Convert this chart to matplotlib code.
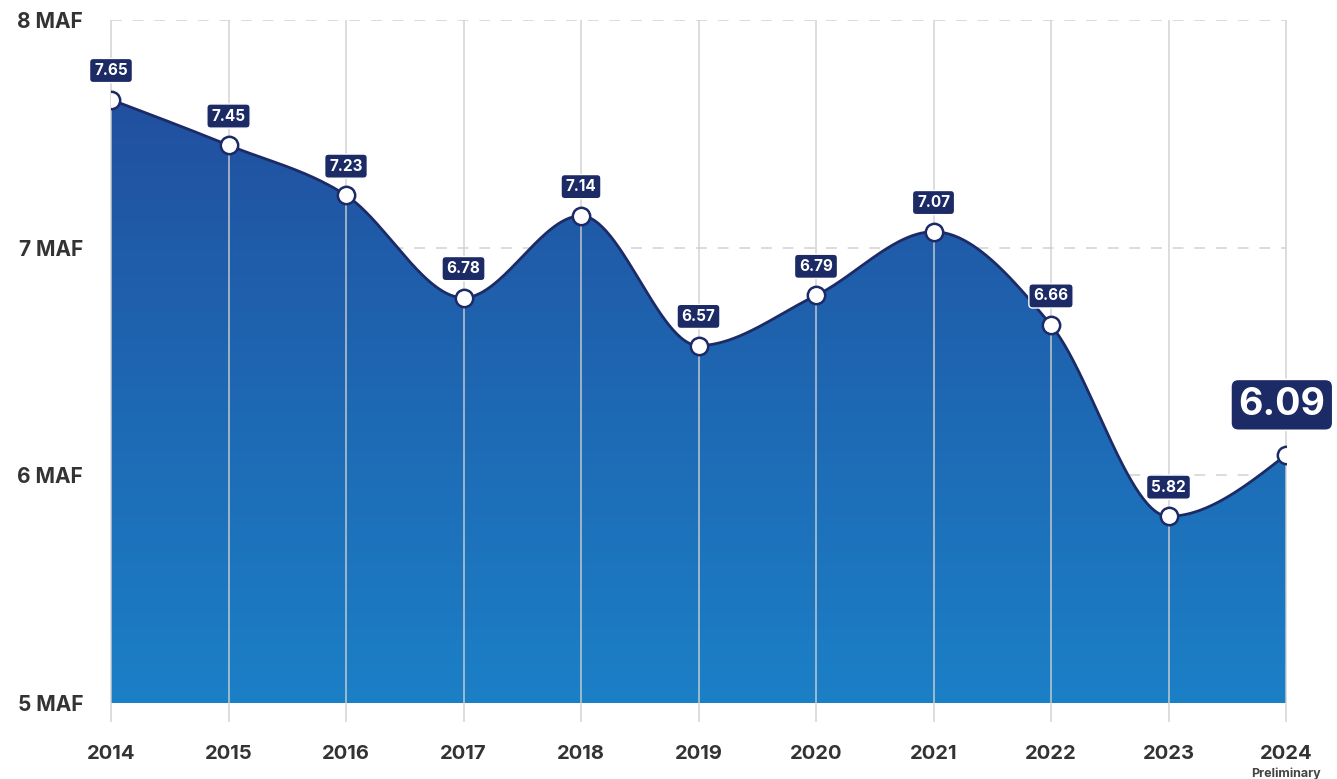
import numpy as np
import matplotlib
matplotlib.use("Agg")
import matplotlib.pyplot as plt
from matplotlib.colors import LinearSegmentedColormap

years = [2014, 2015, 2016, 2017, 2018, 2019, 2020, 2021, 2022, 2023, 2024]
values = [7.65, 7.45, 7.23, 6.78, 7.14, 6.57, 6.79, 7.07, 6.66, 5.82, 6.09]
labels = ["7.65", "7.45", "7.23", "6.78", "7.14", "6.57", "6.79", "7.07", "6.66", "5.82", "6.09"]
yticks = [5, 6, 7, 8]
ytick_labels = ["5 MAF", "6 MAF", "7 MAF", "8 MAF"]

NAVY = "#1c2a66"
FONT = ["Inter", "DejaVu Sans"]


def monotone_x(x, y, n=60):
    x = np.asarray(x, float)
    y = np.asarray(y, float)
    h = np.diff(x)
    s = np.diff(y) / h
    m = np.zeros_like(y)
    for i in range(1, len(y) - 1):
        s0, s1 = s[i - 1], s[i]
        h0, h1 = h[i - 1], h[i]
        p = (s0 * h1 + s1 * h0) / (h0 + h1)
        m[i] = (np.sign(s0) + np.sign(s1)) * min(abs(s0), abs(s1), 0.5 * abs(p))
    m[0] = (3 * s[0] - m[1]) / 2
    m[-1] = (3 * s[-1] - m[-2]) / 2
    xs, ys = [], []
    for i in range(len(x) - 1):
        t = np.linspace(0, 1, n, endpoint=(i == len(x) - 2))
        hh = h[i]
        h00 = 2 * t**3 - 3 * t**2 + 1
        h10 = t**3 - 2 * t**2 + t
        h01 = -2 * t**3 + 3 * t**2
        h11 = t**3 - t**2
        xs.append(x[i] + t * hh)
        ys.append(h00 * y[i] + h10 * hh * m[i] + h01 * y[i + 1] + h11 * hh * m[i + 1])
    return np.concatenate(xs), np.concatenate(ys)


fig = plt.figure(figsize=(13.37, 7.79), dpi=100)
ax = fig.add_axes([111 / 1337, 76 / 779, (1286 - 111) / 1337, (703 - 20) / 779])
ax.set_xlim(years[0], years[-1])
ax.set_ylim(5, 8)
for sp in ax.spines.values():
    sp.set_visible(False)

xs, ys = monotone_x(years, values)

# gradient fill
cmap = LinearSegmentedColormap.from_list("g", ["#1b80c7", "#21509f"])
grad = np.linspace(0, 1, 256).reshape(-1, 1)
im = ax.imshow(grad, extent=[years[0], years[-1], 5, max(ys)], origin="lower",
               aspect="auto", cmap=cmap, zorder=1)
poly = ax.fill_between(xs, 5, ys, color="none", lw=0)
clip_path = poly.get_paths()[0]
im.set_clip_path(clip_path, transform=ax.transData)

# horizontal dashed grid
for yv in [6, 7, 8]:
    ax.plot([years[0], years[-1]], [yv, yv], color="#d9d9d9", lw=1.3,
            dashes=(6, 6), zorder=0.5)
# vertical grid lines extending below the axis
ax.vlines(years, 4.917, 8, colors="#cfcfcf", lw=1.2, alpha=0.85, zorder=2, clip_on=False)
ax.plot([years[0], years[-1]], [5, 5], color="#d0d0d0", lw=1, zorder=0.4)

# curve
ax.plot(xs, ys, color=NAVY, lw=2, zorder=3, solid_capstyle="round")
ax.plot(years, values, "o", ms=12.5, mfc="white", mec=NAVY, mew=1.8, zorder=4)

# value labels
for i, (x, v, lab) in enumerate(zip(years, values, labels)):
    if i == len(years) - 1:
        ax.annotate(lab, (x, v), xytext=(-3, 36), textcoords="offset points",
                    ha="center", va="center", fontsize=27, fontweight="bold",
                    color="white", family=FONT, zorder=5, annotation_clip=False,
                    bbox=dict(boxstyle="round,pad=0.2,rounding_size=0.2",
                              fc=NAVY, ec="white", lw=1.2))
    else:
        ax.annotate(lab, (x, v), xytext=(0, 21), textcoords="offset points",
                    ha="center", va="center", fontsize=11, fontweight="bold",
                    color="white", family=FONT, zorder=5, annotation_clip=False,
                    bbox=dict(boxstyle="round,pad=0.3,rounding_size=0.25",
                              fc=NAVY, ec="white", lw=1.0))

ax.set_yticks(yticks)
ax.set_yticklabels(ytick_labels, fontsize=15, fontweight="bold", color="#333333", family=FONT)
ax.set_xticks(years)
ax.set_xticklabels([str(y) for y in years], fontsize=14.5, fontweight="bold",
                   color="#333333", family=FONT)
ax.tick_params(axis="both", length=0)
ax.tick_params(axis="y", pad=20)
ax.tick_params(axis="x", pad=30)
ax.text(years[-1], -0.095, "Preliminary", transform=ax.get_xaxis_transform(),
        ha="center", va="top", fontsize=9, fontweight="bold", color="#444444", family=FONT)

fig.savefig("out.png", dpi=100)
